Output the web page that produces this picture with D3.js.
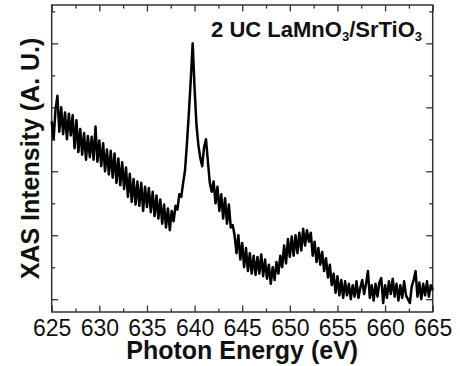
<!DOCTYPE html>
<html><head><meta charset="utf-8">
<script src="https://cdn.jsdelivr.net/npm/d3@7"></script>
<style>body{margin:0;background:#fff}svg{display:block}</style>
</head><body><svg id="c" width="460" height="366"></svg>
<script>
const energy = [
625.0,625.2,625.4,625.6,625.8,626.0,626.2,626.4,626.6,626.8,
627.0,627.2,627.4,627.6,627.8,628.0,628.2,628.4,628.6,628.8,
629.0,629.2,629.4,629.6,629.8,630.0,630.2,630.4,630.6,630.8,
631.0,631.2,631.4,631.6,631.8,632.0,632.2,632.4,632.6,632.8,
633.0,633.2,633.4,633.6,633.8,634.0,634.2,634.4,634.6,634.8,
635.0,635.2,635.4,635.6,635.8,636.0,636.2,636.4,636.6,636.8,
637.0,637.2,637.4,637.6,637.8,638.0,638.2,638.4,638.6,638.8,
639.0,639.2,639.4,639.6,639.8,640.0,640.2,640.4,640.6,640.8,
641.0,641.2,641.4,641.6,641.8,642.0,642.2,642.4,642.6,642.8,
643.0,643.2,643.4,643.6,643.8,644.0,644.2,644.4,644.6,644.8,
645.0,645.2,645.4,645.6,645.8,646.0,646.2,646.4,646.6,646.8,
647.0,647.2,647.4,647.6,647.8,648.0,648.2,648.4,648.6,648.8,
649.0,649.2,649.4,649.6,649.8,650.0,650.2,650.4,650.6,650.8,
651.0,651.2,651.4,651.6,651.8,652.0,652.2,652.4,652.6,652.8,
653.0,653.2,653.4,653.6,653.8,654.0,654.2,654.4,654.6,654.8,
655.0,655.2,655.4,655.6,655.8,656.0,656.2,656.4,656.6,656.8,
657.0,657.2,657.4,657.6,657.8,658.0,658.2,658.4,658.6,658.8,
659.0,659.2,659.4,659.6,659.8,660.0,660.2,660.4,660.6,660.8,
661.0,661.2,661.4,661.6,661.8,662.0,662.2,662.4,662.6,662.8,
663.0,663.2,663.4,663.6,663.8,664.0,664.2,664.4,664.6,664.8,
665.0];
const intensity = [
278,250,296,318,262,300,258,292,250,290,
256,288,236,280,230,266,226,260,218,255,
222,254,218,270,215,248,208,244,200,234,
195,232,190,228,182,220,178,214,172,206,
160,196,152,188,148,184,146,182,138,176,
144,174,136,168,130,162,126,156,118,148,
112,142,108,138,122,146,140,164,160,182,
202,244,291,343,400,330,272,241,221,208,
238,250,215,182,168,184,150,176,138,164,
126,158,118,148,112,116,100,72,100,62,
88,50,80,44,72,40,68,38,66,40,
70,36,62,32,54,24,50,30,58,40,
68,50,84,56,94,66,98,68,100,72,
104,76,110,84,108,90,104,68,90,58,
80,54,74,44,64,34,54,22,40,10,
36,6,30,2,28,6,24,0,22,4,
28,2,18,30,8,24,44,2,22,-2,
24,4,26,33,-6,22,2,28,8,32,
4,24,-2,22,2,28,6,0,-6,20,
30,44,4,26,0,24,6,28,4,22,
14];
const xMajorTicks = [625,630,635,640,645,650,655,660,665];
const xMinorTicks = [627.5,632.5,637.5,642.5,647.5,652.5,657.5,662.5];
const yMajorTicks = [0,100,200,300,400];
const yMinorTicks = [50,150,250,350,450];
const xTitle = "Photon Energy (eV)";
const yTitle = "XAS Intensity (A. U.)";

const FONT = "'Liberation Sans', Arial, sans-serif";
const AX = "#333";
const L = 51.7, R = 432.7, T = 5, B = 312;
const svg = d3.select("#c");
const x = d3.scaleLinear().domain([625, 665]).range([L, R]);
const y = d3.scaleLinear().domain([-20, 460]).range([B, T]);

function styleAxis(g, labels) {
  g.select(".domain").remove();
  g.selectAll(".tick line").attr("stroke", AX).attr("stroke-width", 1.3);
  g.selectAll(".tick text").attr("fill", "#111").style("font-family", FONT).style("font-size", "23px");
  if (!labels) g.selectAll(".tick text").remove();
}
// bottom
svg.append("g").attr("transform", `translate(0,${B})`)
  .call(d3.axisBottom(x).tickValues(xMajorTicks).tickSizeInner(-6.5).tickSizeOuter(0).tickPadding(8).tickFormat(d3.format("d")))
  .call(g => styleAxis(g, true));
svg.append("g").attr("transform", `translate(0,${B})`)
  .call(d3.axisBottom(x).tickValues(xMinorTicks).tickSizeInner(-3.5).tickSizeOuter(0).tickFormat(""))
  .call(g => styleAxis(g, false));
// top
svg.append("g").attr("transform", `translate(0,${T})`)
  .call(d3.axisTop(x).tickValues(xMajorTicks).tickSizeInner(-6.5).tickSizeOuter(0).tickFormat(""))
  .call(g => styleAxis(g, false));
svg.append("g").attr("transform", `translate(0,${T})`)
  .call(d3.axisTop(x).tickValues(xMinorTicks).tickSizeInner(-3.5).tickSizeOuter(0).tickFormat(""))
  .call(g => styleAxis(g, false));
// left
svg.append("g").attr("transform", `translate(${L},0)`)
  .call(d3.axisLeft(y).tickValues(yMajorTicks).tickSizeInner(-6.5).tickSizeOuter(0).tickFormat(""))
  .call(g => styleAxis(g, false));
svg.append("g").attr("transform", `translate(${L},0)`)
  .call(d3.axisLeft(y).tickValues(yMinorTicks).tickSizeInner(-3.5).tickSizeOuter(0).tickFormat(""))
  .call(g => styleAxis(g, false));
// right
svg.append("g").attr("transform", `translate(${R},0)`)
  .call(d3.axisRight(y).tickValues(yMajorTicks).tickSizeInner(-6.5).tickSizeOuter(0).tickFormat(""))
  .call(g => styleAxis(g, false));
svg.append("g").attr("transform", `translate(${R},0)`)
  .call(d3.axisRight(y).tickValues(yMinorTicks).tickSizeInner(-3.5).tickSizeOuter(0).tickFormat(""))
  .call(g => styleAxis(g, false));

// frame
svg.append("rect").attr("x", L).attr("y", T).attr("width", R - L).attr("height", B - T)
  .attr("fill", "none").attr("stroke", AX).attr("stroke-width", 1.5);

// data line
const data = energy.map((e, i) => [e, intensity[i]]);
svg.append("path").datum(data)
  .attr("fill", "none").attr("stroke", "#000").attr("stroke-width", 2.5)
  .attr("stroke-linejoin", "round")
  .attr("d", d3.line().x(d => x(d[0])).y(d => y(d[1])));

// titles
svg.append("text").attr("x", (L + R) / 2).attr("y", 359).attr("text-anchor", "middle")
  .style("font-family", FONT).style("font-size", "25px").style("font-weight", "bold").attr("fill", "#111")
  .text(xTitle);
svg.append("text").attr("transform", `translate(39,${(T + B) / 2}) rotate(-90)`).attr("text-anchor", "middle")
  .style("font-family", FONT).style("font-size", "25px").style("font-weight", "bold").attr("fill", "#111")
  .text(yTitle);

// sample label
const lab = svg.append("text").attr("x", 422).attr("y", 37).attr("text-anchor", "end")
  .style("font-family", FONT).style("font-size", "22px").style("font-weight", "bold").attr("fill", "#111");
lab.append("tspan").text("2 UC LaMnO");
lab.append("tspan").attr("dy", 4).style("font-size", "13px").text("3");
lab.append("tspan").attr("dy", -4).text("/SrTiO");
lab.append("tspan").attr("dy", 4).style("font-size", "13px").text("3");
</script></body></html>
